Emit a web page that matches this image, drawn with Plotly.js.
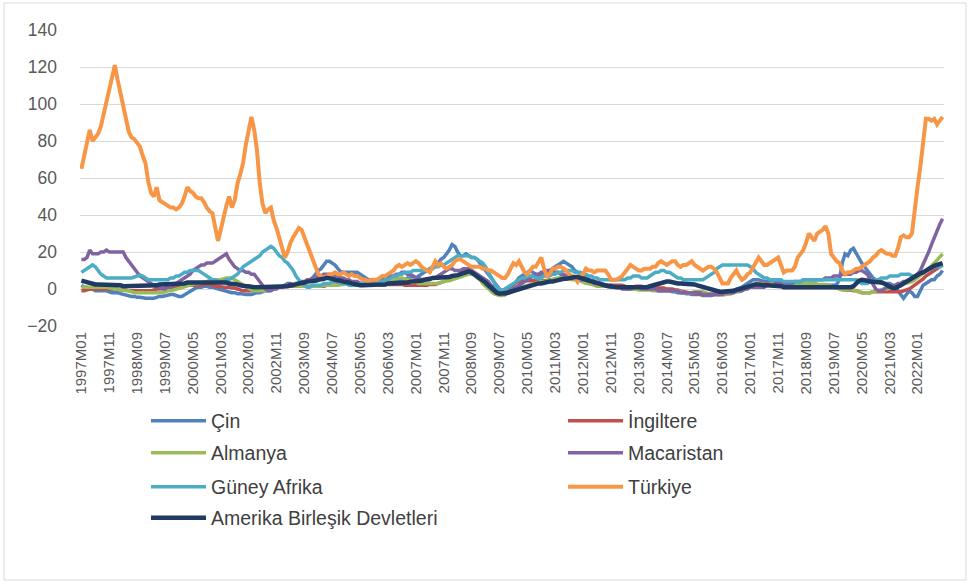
<!DOCTYPE html>
<html>
<head>
<meta charset="utf-8">
<script src="https://cdn.plot.ly/plotly-3.0.1.min.js"></script>
<style>
  html, body { margin: 0; padding: 0; background: #fff; }
  #chart { width: 971px; height: 585px; }
</style>
</head>
<body>
<div id="chart"></div>
<script>
// ---- categories (monthly, 1997M01 .. 2022M10) ----
const startYear = 1997;
const monthCount = 310;
const categories = [];
for (let k = 0; k < monthCount; k++) {
  const y = startYear + Math.floor(k / 12);
  const m = (k % 12) + 1;
  categories.push(y + 'M' + (m < 10 ? '0' + m : '' + m));
}
const tickLabels = categories.filter((c, k) => k % 10 === 0);

// ---- series values (one row per year) ----
const cin = [
  2, 1, 1, 0, 0, -1, -1, -1, -1, -1, -1.5, -2,
  -2, -2, -2.5, -3, -3, -3.5, -4, -4, -4.5, -4.5, -5, -5,
  -5, -5, -5, -4.5, -4, -4, -3.5, -3, -3, -3, -3.5, -4,
  -4, -3, -2, -1, 0, 0.5, 1, 1, 1.5, 1.5, 1, 1,
  0.5, 0, -0.5, -1, -1, -1.5, -2, -2, -2.5, -2.5, -3, -3,
  -3, -3, -2.5, -2, -2, -1.5, -1, -1, -0.5, 0, 0.5, 1,
  1.5, 2, 3, 3, 2, 2, 2, 2.5, 3, 4, 5, 6,
  8, 10, 11, 13, 15, 15, 14, 13, 11, 9.5, 9, 9,
  9, 9, 9, 9, 8, 7, 6, 5, 4, 3, 3, 2,
  2, 2, 3, 3, 4, 4, 5, 5, 5, 6, 6, 7,
  6, 7, 8, 9, 10, 11, 12, 13, 14, 16, 17, 19,
  21, 24, 23, 20, 18, 18, 19, 18, 17, 17, 16, 14,
  12, 10, 8, 6, 4, 2, 0, -1, -1, 0, 1, 2,
  4, 6, 7, 8, 9, 10, 9, 8, 7, 7, 8, 9,
  10, 11, 12, 13, 14, 15, 14, 13, 12, 10, 9, 8,
  7, 6, 5, 4, 3, 2.5, 2, 2, 1.5, 1.5, 1, 1,
  1, 1, 0.5, 0.5, 0, 0, 0, 0.5, 0.5, 0.5, 0.5, 0,
  0, -0.5, -0.5, -1, -1, -1, -1, -1, -1.5, -1.5, -2, -2,
  -2, -2.5, -2.5, -3, -3, -3, -3, -3.5, -3.5, -3.5, -3.5, -3,
  -3, -3, -2.5, -2, -2, -1.5, -1, -0.5, 0, 1, 2, 3,
  4, 5, 5, 5, 4.5, 4, 4, 4, 4, 4, 3.5, 3,
  3, 3, 2.5, 2.5, 2.5, 2.5, 2.5, 2, 2, 2, 1.5, 1.5,
  1, 1, 1.5, 2, 2, 2, 2, 2.5, 5, 14, 19, 18,
  21, 22, 19, 16, 14, 12, 10, 8, 6, 5, 4, 4,
  3, 3, 3, 2, 1, -1, -3, -5, -3, -1, -2, -4,
  -4, -1, 2, 3, 4, 5, 5, 7, 8, 10
];
const ingiltere = [
  -1, -1, -0.5, 0, 0, 0, 0, 0, 0, 0, 0, 0,
  0, 0, -0.5, -0.5, -0.5, -1, -1, -1, -1, -1, -1, -1,
  -1, -1, -0.5, 0, 0, 0.5, 0.5, 1, 1, 1, 1.5, 1.5,
  2, 2, 2, 2, 2, 2, 2, 2, 2.5, 2.5, 2.5, 2,
  1.5, 1.5, 1, 1, 1, 1, 0.5, 0.5, 0, -0.5, -1, -1,
  -1, -1, -0.5, -0.5, 0, 0, 0, 0, 0.5, 0.5, 1, 1,
  1, 1.5, 1.5, 1.5, 1.5, 1.5, 1.5, 1.5, 1.5, 1.5, 1.5, 1.5,
  1.5, 1.5, 1.5, 1.5, 2, 2, 2, 2, 2.5, 2.5, 3, 3,
  3, 3, 3, 3, 3, 3, 3, 3, 3, 3, 3, 2.5,
  2.5, 2.5, 2.5, 2.5, 2.5, 2.5, 2.5, 2.5, 2, 2, 2, 2,
  2, 2, 2, 2, 2, 2.5, 2.5, 2.5, 3, 3.5, 4, 4.5,
  5, 5.5, 6, 7, 8, 9, 10, 10, 9.5, 8.5, 7, 5,
  4, 3, 2, 1, 0, -1, -1.5, -1, 0, 1, 2, 3,
  3.5, 4, 4.5, 4.5, 4.5, 4.5, 4.5, 4.5, 4.5, 4.5, 4.5, 4.5,
  5, 5, 5.5, 5.5, 6, 6, 6, 6, 6, 5.5, 5, 5,
  4, 3.5, 3, 3, 2.5, 2, 2, 2, 2, 2, 2, 2,
  2, 2, 2, 1.5, 1, 1, 1.5, 1.5, 1.5, 1.5, 1, 1,
  1, 0.5, 0.5, 0.5, 0.5, 0.5, 0, 0, 0, -0.5, -0.5, -1,
  -1.5, -2, -2, -2, -2.5, -2.5, -3, -3, -3, -3, -3, -3,
  -3, -3, -3, -3, -2.5, -2.5, -2, -1.5, -1, -0.5, 0, 1,
  2, 2.5, 3, 3, 3, 3, 3, 3, 3, 3, 3, 3,
  3, 3, 2.5, 2.5, 3, 3, 3, 3, 3, 3, 3, 3,
  2.5, 2, 2, 2, 2, 1.5, 1, 0.5, 0, -0.5, -0.5, -0.5,
  -0.5, -1, -1, -1.5, -2, -2, -2, -2, -1.5, -1.5, -1.5, -1.5,
  -1.5, -1.5, -1.5, -1.5, -1.5, -1.5, -1.5, -1, -0.5, 0, 1, 2,
  3, 4, 5.5, 7, 8, 9, 10, 11, 12, 13
];
const almanya = [
  1, 1, 1, 1, 1, 1, 1, 1, 1, 1, 0.5, 0.5,
  0, 0, -0.5, -0.5, -1, -1, -1.5, -2, -2, -2, -2, -2,
  -2, -2, -2, -2, -2, -2, -1.5, -1, -1, -0.5, 0, 0.5,
  1, 1.5, 2, 2, 2.5, 3, 3, 3.5, 4, 4.5, 4.5, 4.5,
  5, 5, 5, 5.5, 6, 6, 6, 5, 4, 3, 2, 1,
  0, -0.5, -1, -1, -1, -1, -1, -1, -0.5, 0, 0.5, 1,
  1.5, 2, 2, 2, 2, 1.5, 1.5, 1.5, 1.5, 1.5, 1.5, 1.5,
  1.5, 1.5, 1.5, 2, 2, 2, 2, 2, 2, 2.5, 2.5, 3,
  3, 3, 3, 3, 3, 3, 3, 3, 3.5, 3.5, 4, 4,
  4.5, 5, 5, 5, 5.5, 5.5, 6, 6, 5.5, 5, 5, 4.5,
  3.5, 3, 3, 3, 3, 3, 3, 3, 3, 3.5, 4, 4.5,
  4.5, 5, 5.5, 6, 6.5, 7, 7.5, 8, 8, 7.5, 6, 5,
  3, 1.5, 0, -1.5, -2.5, -3, -3.5, -3.5, -3, -2.5, -2, -1.5,
  -1, 0, 1, 1.5, 2, 2.5, 3, 3.5, 3.5, 4, 4, 4.5,
  5, 5.5, 6, 6, 6, 6, 5.5, 5.5, 5, 5, 5, 4.5,
  3.5, 3, 3, 2.5, 2, 1.5, 1.5, 1.5, 1.5, 1.5, 1.5, 1.5,
  1, 1, 0.5, 0, 0, 0, 0, 0, -0.5, -0.5, -0.5, -0.5,
  -0.5, -1, -1, -1, -1, -1, -1, -1, -1, -1, -1, -1.5,
  -2, -2, -2, -2, -1.5, -1.5, -1.5, -1.5, -2, -2.5, -2.5, -2.5,
  -2.5, -3, -3, -3, -2.5, -2, -2, -1.5, -1.5, -1, 0, 0.5,
  1, 2, 3, 3, 3, 2.5, 2.5, 2.5, 3, 2.5, 2.5, 2.5,
  2, 2, 2, 2, 2.5, 3, 3, 3, 3, 3, 3, 3,
  2.5, 2.5, 2.5, 2.5, 2, 1.5, 1, 0.5, 0, -0.5, -0.5, 0,
  0, -0.5, -1, -1.5, -2, -2, -2, -2, -1.5, -1, -0.5, 0,
  0, 0, 0.5, 1, 1, 1.5, 2, 2.5, 3, 3.5, 4, 5,
  6, 7, 8.5, 10, 11, 12.5, 14, 15.5, 17, 19
];
const macaristan = [
  16, 16, 17, 21, 19, 19, 19, 20, 20, 21, 20, 20,
  20, 20, 20, 20, 17, 15, 13, 11, 9, 7, 6, 5,
  4, 3, 2, 1, 1, 0, 0, 1, 1, 2, 3, 4,
  5, 6, 7, 8, 10, 11, 12, 13, 13, 14, 14, 14,
  15, 16, 17, 18, 19, 16, 14, 12, 11, 10, 10, 9,
  9, 8, 8, 6, 4, 2, 0, -1, -1, 0, 0, 1,
  1, 2, 2, 2, 2, 3, 3, 4, 4, 5, 5, 6,
  6, 7, 7, 8, 8, 8, 7, 7, 7, 6, 6, 5,
  5, 4, 4, 4, 3, 3, 3, 3, 4, 4, 5, 5,
  5, 6, 6, 7, 7, 8, 8, 9, 9, 8, 8, 7,
  6, 6, 5, 5, 5, 5, 6, 6, 7, 8, 9, 10,
  11, 11, 10, 10, 10, 11, 11, 11, 10, 9, 8, 7,
  6, 5, 4, 2, 1, 0, -1, -2, -3, -2, -1, 0,
  1, 2, 3, 4, 5, 6, 7, 8, 8, 9, 9, 10,
  10, 10, 9, 9, 8, 8, 7, 7, 6, 6, 5, 5,
  5, 5, 4, 4, 3, 3, 3, 2, 2, 2, 2, 1,
  1, 1, 0, 0, 0, 0, 1, 1, 1, 0, 0, 0,
  0, 0, 0, -1, -1, -1, -1, -1, -1, -1, -1, -2,
  -2, -2, -2, -2, -2, -2, -2, -3, -3, -3, -3, -3,
  -3, -3, -3, -2, -2, -2, -2, -1, -1, -1, 0, 0,
  1, 1, 1, 1, 1, 1, 2, 2, 2, 3, 3, 3,
  3, 3, 3, 3, 4, 4, 4, 5, 5, 5, 5, 5,
  5, 5, 5, 6, 6, 6, 7, 7, 7, 8, 8, 8,
  8, 9, 9, 10, 10, 9, 8, 5, 2, 0, -1, -1,
  0, 1, 1, 2, 2, 3, 3, 4, 4, 5, 6, 7,
  8, 10, 13, 17, 20, 24, 28, 31, 35, 38
];
const guneyAfrika = [
  9, 10, 11, 12, 13, 12, 10, 8, 7, 6, 6, 6,
  6, 6, 6, 6, 6, 6, 6, 6.5, 7, 7.5, 7, 6,
  5, 5, 5, 5, 5, 5, 5, 5, 6, 6, 7, 7,
  8, 9, 9, 10, 10, 10, 10, 9, 8, 7, 6, 5,
  5, 4, 4, 4, 5, 5, 6, 7, 8, 10, 12, 13,
  14, 15, 16, 17, 18, 20, 21, 22, 23, 22, 20, 18,
  17, 15, 14, 12, 10, 7, 5, 3, 2, 1, 1, 2,
  2, 2, 2, 3, 3, 3, 4, 4, 4, 3, 3, 3,
  2, 2, 2, 2, 3, 3, 3, 3, 4, 4, 4, 4,
  4, 5, 5, 6, 7, 7, 8, 8, 9, 9, 9, 10,
  10, 10, 10, 10, 10, 11, 11, 12, 12, 13, 13, 14,
  15, 16, 17, 18, 18, 18, 18, 18, 17, 17, 16, 15,
  14, 12, 9, 6, 3, 1, 0, -1, 0, 1, 2, 3,
  4, 5, 6, 6, 7, 7, 7, 6, 6, 6, 7, 7,
  7, 8, 8, 9, 9, 10, 10, 10, 10, 9, 9, 9,
  8, 8, 7, 7, 6, 6, 5, 5, 5, 5, 5, 5,
  5, 5, 5, 5, 6, 6, 7, 7, 7, 6, 6, 6,
  7, 8, 9, 9, 10, 10, 9, 9, 8, 7, 6, 6,
  5, 5, 5, 5, 5, 5, 5, 5, 6, 7, 8, 9,
  11, 12, 13, 13, 13, 13, 13, 13, 13, 13, 13, 13,
  12, 11, 9, 8, 7, 6, 6, 5, 5, 5, 5, 5,
  4, 4, 4, 4, 4, 4, 4, 5, 5, 5, 5, 5,
  5, 5, 5, 5, 5, 5, 5, 5, 5, 5, 5, 5,
  5, 5, 5, 4, 3, 3, 3, 4, 4, 5, 5, 6,
  6, 6, 7, 7, 7, 7, 8, 8, 8, 8, 7, 7,
  8, 9, 9, 10, 11, 11, 12, 12, 12, 13
];
const turkiye = [
  65, 72, 79, 86, 80, 82, 84, 88, 95, 101, 108, 114,
  121, 113, 106, 100, 92, 85, 82, 81, 79, 77, 72, 68,
  58, 52, 50, 55, 48, 47, 46, 45, 44, 44, 43, 44,
  46, 50, 55, 53, 52, 50, 49, 49, 47, 44, 42, 41,
  33, 26, 32, 39, 45, 50, 44, 48, 57, 62, 68, 78,
  86, 93, 86, 75, 57, 46, 41, 43, 44, 37, 33, 27,
  23, 17, 20, 25, 28, 31, 33, 32, 28, 24, 19, 15,
  11, 8, 7, 6, 7, 8, 8, 9, 8, 8, 9, 8,
  7, 8, 7, 7, 6, 5, 5, 4, 5, 5, 5, 6,
  7, 7, 8, 9, 10, 12, 13, 12, 13, 14, 13, 14,
  15, 14, 12, 11, 10, 9, 12, 15, 13, 14, 12, 11,
  12, 13, 15, 16, 16, 15, 14, 13, 12, 12, 12, 12,
  11, 11, 10, 10, 9, 8, 7, 6, 6, 8, 11, 14,
  13, 15, 12, 9, 8, 10, 12, 12, 15, 17, 11, 7,
  8, 11, 11, 12, 12, 11, 10, 8, 7, 6, 4, 7,
  8, 11, 10, 10, 9, 10, 10, 10, 10, 8, 5, 5,
  5, 6, 7, 9, 11, 13, 12, 11, 10, 10, 11, 11,
  11, 12, 12, 14, 15, 14, 13, 14, 15, 15, 13, 12,
  13, 13, 14, 15, 13, 12, 11, 10, 11, 12, 12, 11,
  9, 6, 3, 3, 3, 6, 8, 10, 7, 5, 6, 8,
  9, 12, 15, 17, 15, 13, 13, 14, 15, 16, 17, 13,
  9, 10, 10, 10, 12, 17, 19, 21, 25, 30, 28, 26,
  30, 31, 32, 34, 30, 19, 17, 15, 14, 10, 8, 9,
  9, 10, 11, 11, 12, 13, 14, 15, 17, 18, 20, 21,
  20, 19, 19, 18, 18, 22, 28, 29, 28, 28, 30, 45,
  55, 66, 80, 92, 92, 91, 92, 89, 91, 93
];
const abd = [
  4.5, 4, 3.5, 3, 3, 2.5, 2.5, 2.5, 2, 2, 2, 2,
  2, 2, 2, 1.5, 1.5, 1.5, 1.5, 1.5, 1.5, 2, 2, 2,
  2, 2, 2, 2, 2.5, 2.5, 3, 3, 3, 3, 3, 3,
  3, 3, 3.5, 3.5, 4, 4, 4, 4, 4, 4, 4, 4,
  4, 4, 3.5, 3.5, 3.5, 3, 3, 3, 2.5, 2, 1.5, 1.5,
  1.5, 1, 1, 1, 1, 1, 1, 1, 1, 1, 1.5, 1.5,
  1.5, 1.5, 1.5, 2, 2, 2.5, 3, 3, 3.5, 4, 4, 4,
  4.5, 5, 5, 5.5, 6, 6, 5.5, 5, 5, 4.5, 4, 4,
  3.5, 3, 2.5, 2, 2, 2, 2, 2, 2, 2, 2, 2.5,
  2.5, 2.5, 3, 3, 3, 3, 3, 3.5, 3.5, 3.5, 4, 4,
  4, 4.5, 4.5, 5, 5, 5.5, 6, 6, 6, 6, 6.5, 6.5,
  6.5, 7, 7, 7.5, 8, 8.5, 9, 9.5, 9, 8, 7, 6,
  5, 3.5, 2, 0.5, -1, -2, -2.5, -2.5, -2.5, -2, -1.5, -1,
  -0.5, 0, 0.5, 1, 1.5, 2, 2.5, 2.5, 3, 3, 3.5, 3.5,
  4, 4, 4.5, 5, 5, 5.5, 5.5, 6, 6, 6.5, 6.5, 6,
  5.5, 5, 4.5, 4, 3.5, 3, 2.5, 2, 2, 1.5, 1.5, 1,
  1, 1, 1, 0.5, 0.5, 0.5, 0.5, 0.5, 0.5, 0.5, 1, 1,
  1.5, 2, 2.5, 3, 3.5, 4, 4, 4, 3.5, 3.5, 3, 3,
  3, 3, 3, 2.5, 2.5, 2, 1.5, 1, 0.5, 0, -0.5, -1,
  -1, -1.5, -1.5, -1.5, -1.5, -1, -1, -0.5, 0, 0.5, 1, 1.5,
  2, 2, 2.5, 2.5, 2, 2, 2, 2, 1.5, 1.5, 1.5, 1.5,
  1, 1, 1, 0.5, 0.5, 0.5, 0.5, 0.5, 0.5, 0.5, 0.5, 0.5,
  0.5, 0.5, 1, 1, 1, 1, 1, 1, 1, 1, 1, 1,
  1, 1.5, 3, 4.5, 5, 5, 4.5, 4, 4, 4, 4, 3.5,
  3, 2, 1, 0.5, 0.5, 1, 2, 3, 4, 5, 6, 7,
  8, 8.5, 9, 10, 11, 11.5, 12.5, 13, 13.5, 14
];

// ---- chart ----
const names = ['Çin', 'İngiltere', 'Almanya', 'Macaristan', 'Güney Afrika', 'Türkiye', 'Amerika Birleşik Devletleri'];
const seriesList = [cin, ingiltere, almanya, macaristan, guneyAfrika, turkiye, abd];
const colors = ['#4F81BD', '#C0504D', '#9BBB59', '#8064A2', '#4BACC6', '#F79646', '#1F3B63'];
const widths = [3.5, 3.5, 3.5, 3.5, 3.5, 4, 4.5];
const legendIds = ['legend', 'legend2', 'legend3', 'legend4', 'legend5', 'legend6', 'legend7'];

const traces = seriesList.map((vals, s) => ({
  type: 'scatter',
  mode: 'lines',
  name: names[s],
  x: categories,
  y: vals,
  line: { color: colors[s], width: widths[s] },
  legend: legendIds[s],
  hoverinfo: 'x+y+name'
}));

// plot area in pixels: left 80, right 944, top 30, bottom 326
const L = 80, R = 944, T = 30, B = 326, W = 971, H = 585;
const px = v => (v - L) / (R - L);
const py = v => (B - v) / (B - T);

function legendAt(xPix, yPix) {
  return {
    orientation: 'v',
    x: px(xPix), xanchor: 'left',
    y: py(yPix), yanchor: 'middle',
    itemwidth: 55,
    font: { family: 'Liberation Sans, Arial, sans-serif', size: 19.5, color: '#404040' },
    bgcolor: 'rgba(0,0,0,0)', borderwidth: 0
  };
}

const col1 = 146, col2 = 563;
const layout = {
  width: W, height: H,
  margin: { l: L, r: W - R, t: T, b: H - B, pad: 0 },
  paper_bgcolor: '#ffffff',
  plot_bgcolor: '#ffffff',
  showlegend: true,
  xaxis: {
    type: 'category',
    range: [-0.5, monthCount - 0.5],
    tickmode: 'array',
    tickvals: tickLabels,
    ticktext: tickLabels,
    tickangle: -90,
    showgrid: false, zeroline: false, showline: false,
    ticks: '',
    ticklabelstandoff: 2,
    tickfont: { family: 'Liberation Sans, Arial, sans-serif', size: 15, color: '#595959' }
  },
  yaxis: {
    range: [-20, 140],
    tickmode: 'linear', tick0: -20, dtick: 20,
    showgrid: true, gridcolor: '#D9D9D9', gridwidth: 1,
    zeroline: false, showline: false, ticks: '',
    ticklabelstandoff: 22,
    tickfont: { family: 'Liberation Sans, Arial, sans-serif', size: 17.5, color: '#595959' }
  },
  legend: legendAt(col1, 421),
  legend2: legendAt(col2, 421),
  legend3: legendAt(col1, 453),
  legend4: legendAt(col2, 453),
  legend5: legendAt(col1, 487),
  legend6: legendAt(col2, 487),
  legend7: legendAt(col1, 518),
  shapes: [{
    type: 'rect', xref: 'paper', yref: 'paper',
    x0: px(4), x1: px(966), y0: py(580), y1: py(3),
    line: { color: '#D9D9D9', width: 1 }, fillcolor: 'rgba(0,0,0,0)', layer: 'below'
  }]
};

Plotly.newPlot('chart', traces, layout, { displayModeBar: false, responsive: false });
</script>
</body>
</html>
